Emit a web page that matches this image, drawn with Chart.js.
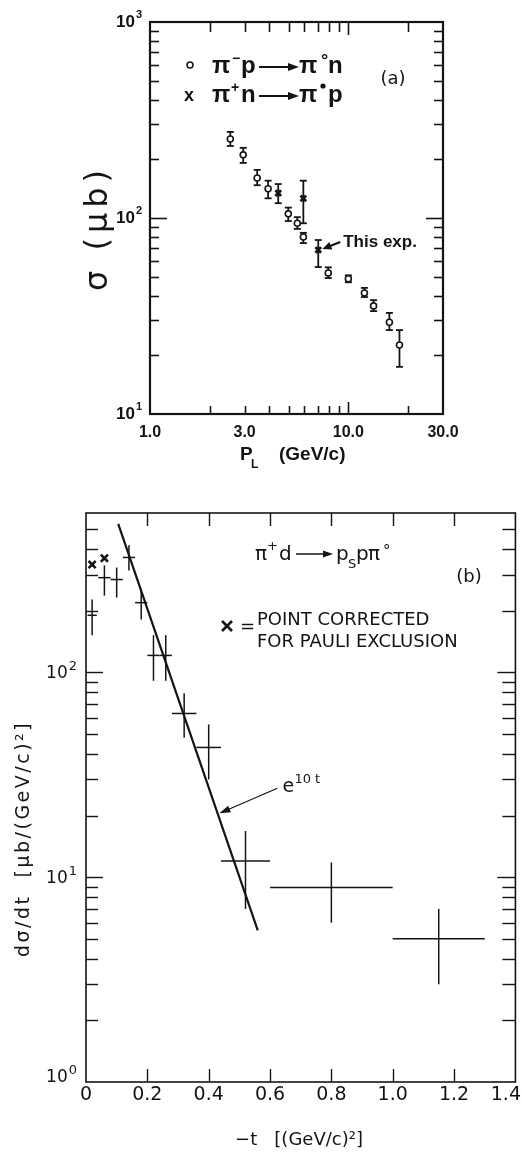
<!DOCTYPE html>
<html>
<head>
<meta charset="utf-8">
<script src="https://cdn.jsdelivr.net/npm/chart.js@4.4.0/dist/chart.umd.min.js"></script>
<style>
  html, body { margin: 0; padding: 0; background: #fff; }
  #wrap { position: relative; width: 523px; height: 1153px; }
  canvas { position: absolute; left: 0; }
  #chartA { top: 0; }
  #chartB { top: 470px; }
</style>
</head>
<body>
<div id="wrap">
  <canvas id="chartA" width="523" height="470"></canvas>
  <canvas id="chartB" width="523" height="683"></canvas>
</div>
<script>
// ── (a) total cross section vs beam momentum ─────────
// pi- p -> pi0 n
const pimMom   = [2.54, 2.95, 3.47, 3.94, 4.98, 5.53, 5.93, 7.92, 10.0, 12.05, 13.4, 16.1, 18.1];
const pimSigma = [253, 210, 160, 141, 105, 94, 80, 52.4, 49, 41.4, 35.6, 29.4, 22.5];
const pimHi    = [275, 228, 176, 155, 113, 101, 84, 56, 51, 44, 38.1, 32.8, 26.8];
const pimLo    = [233, 191, 147, 126, 96.5, 88, 74.5, 49.4, 47, 39.5, 33.5, 26.8, 17.4];
// pi+ n -> pi0 p (last one is this experiment)
const pipMom   = [4.43, 5.93, 7.05];
const pipSigma = [134, 126, 68.7];
const pipHi    = [149, 155, 77.2];
const pipLo    = [119, 94, 56.2];

const aMomLabelVals = [1, 3, 10, 30];
const aMomLabels    = ['1.0', '3.0', '10.0', '30.0'];
const aMomMinor     = [2, 3, 4, 5, 6, 7, 8, 9, 20];
const aMomMajor     = [10];
const aSigExps      = [1, 2, 3];
const aSigMinor     = [20, 30, 40, 50, 60, 70, 80, 90, 200, 300, 400, 500, 600, 700, 800, 900];
const aSigMajor     = [100];

// ── (b) d sigma / dt vs -t ───────────────────────────
const tMid  = [0.02, 0.06, 0.10, 0.14, 0.18, 0.22, 0.26, 0.32, 0.40, 0.52, 0.80, 1.15];
const tLo   = [0.005, 0.04, 0.08, 0.12, 0.16, 0.20, 0.24, 0.28, 0.36, 0.44, 0.60, 1.00];
const tHi   = [0.035, 0.08, 0.12, 0.16, 0.20, 0.24, 0.28, 0.36, 0.44, 0.60, 1.00, 1.30];
const dsdt  = [190, 290, 284, 364, 219, 121, 121, 63, 43, 12, 8.9, 5.0];
const dsdtHi = [227, 333, 325, 417, 254, 152, 152, 79, 55.7, 16.8, 11.8, 7.0];
const dsdtLo = [152, 237, 232, 314, 181, 91, 91, 48, 30, 7.0, 6.0, 3.0];
// points corrected for Pauli exclusion
const pauliT  = [0.02, 0.06];
const pauliY  = [336, 361];
// exponential fit e^{10t}, drawn between its two end points
const fitT = [0.105, 0.56];
const fitY = [531, 5.5];

const bTVals   = [0, 0.2, 0.4, 0.6, 0.8, 1.0, 1.2, 1.4];
const bTLabels = ['0', '0.2', '0.4', '0.6', '0.8', '1.0', '1.2', '1.4'];
const bTTicks  = [0.2, 0.4, 0.6, 0.8, 1.0, 1.2];
const bYExps   = [0, 1, 2];
const bYMinor  = [2, 3, 4, 5, 6, 7, 8, 9, 20, 30, 40, 50, 60, 70, 80, 90, 200, 300, 400, 500];
const bYMajor  = [10, 100];

const INK  = '#141414';
const SANS = '"DejaVu Sans", sans-serif';
const BOLD = 'bold 17px "Liberation Sans", Arial, sans-serif';

// ── helpers ──────────────────────────────────────────
function line(ctx, x1, y1, x2, y2) {
  ctx.beginPath(); ctx.moveTo(x1, y1); ctx.lineTo(x2, y2); ctx.stroke();
}

function arrow(ctx, x1, y1, x2, y2, head, half, lw) {
  const a = Math.atan2(y2 - y1, x2 - x1);
  const c = Math.cos(a), s = Math.sin(a);
  ctx.save();
  ctx.strokeStyle = INK; ctx.fillStyle = INK; ctx.lineWidth = lw;
  line(ctx, x1, y1, x2 - head * 0.7 * c, y2 - head * 0.7 * s);
  ctx.beginPath();
  ctx.moveTo(x2, y2);
  ctx.lineTo(x2 - head * c + half * s, y2 - head * s - half * c);
  ctx.lineTo(x2 - head * c - half * s, y2 - head * s + half * c);
  ctx.closePath(); ctx.fill();
  ctx.restore();
}

function put(ctx, s, x, y, font, align = 'left', base = 'alphabetic') {
  ctx.font = font; ctx.textAlign = align; ctx.textBaseline = base;
  ctx.fillText(s, x, y);
}

// "10" with a raised exponent, right edge at x
function power(ctx, right, y, exp, font, supFont, rise) {
  ctx.textAlign = 'left'; ctx.textBaseline = 'alphabetic';
  ctx.font = supFont;
  const ew = ctx.measureText(String(exp)).width;
  ctx.font = font;
  const bw = ctx.measureText('10').width;
  ctx.fillText('10', right - ew - bw - 1, y);
  ctx.font = supFont;
  ctx.fillText(String(exp), right - ew, y - rise);
}

function frame(chart, lw) {
  const { ctx, chartArea: a } = chart;
  ctx.save();
  ctx.strokeStyle = INK; ctx.lineWidth = lw;
  ctx.strokeRect(a.left, a.top, a.right - a.left, a.bottom - a.top);
  ctx.restore();
}

// inward ticks on both sides of an axis
function ticks(chart, axis, values, lenA, lenB, lw) {
  const { ctx, chartArea: a } = chart;
  const sc = chart.scales[axis];
  ctx.save();
  ctx.strokeStyle = INK; ctx.lineWidth = lw;
  values.forEach(v => {
    const p = Math.round(sc.getPixelForValue(v)) + 0.5;
    if (axis === 'x') {
      line(ctx, p, a.bottom, p, a.bottom - lenA);
      line(ctx, p, a.top, p, a.top + lenB);
    } else {
      line(ctx, a.left, p, a.left + lenA, p);
      line(ctx, a.right, p, a.right - lenB, p);
    }
  });
  ctx.restore();
}

// vertical / horizontal error bars read from the dataset
const errorBars = {
  id: 'errorBars',
  beforeDatasetsDraw(chart) {
    const { ctx, scales: { x, y } } = chart;
    ctx.save();
    ctx.strokeStyle = INK;
    chart.data.datasets.forEach(ds => {
      if (!ds.yHi && !ds.xHi) return;
      ctx.lineWidth = ds.barWidth || 1.5;
      ds.data.forEach((pt, k) => {
        const px = x.getPixelForValue(pt.x);
        const py = y.getPixelForValue(pt.y);
        if (ds.yHi) {
          const top = y.getPixelForValue(ds.yHi[k]);
          const bot = y.getPixelForValue(ds.yLo[k]);
          line(ctx, px, top, px, bot);
          if (ds.cap) {
            line(ctx, px - ds.cap, top, px + ds.cap, top);
            line(ctx, px - ds.cap, bot, px + ds.cap, bot);
          }
        }
        if (ds.xHi) {
          line(ctx, x.getPixelForValue(ds.xLo[k]), py, x.getPixelForValue(ds.xHi[k]), py);
        }
      });
    });
    ctx.restore();
  },
};

// ── panel (a) decorations ────────────────────────────
const panelA = {
  id: 'panelA',
  afterDraw(chart) {
    const { ctx, chartArea: a, scales: { x, y } } = chart;
    frame(chart, 2.2);
    ticks(chart, 'x', aMomMinor, 8, 10, 1.6);
    ticks(chart, 'x', aMomMajor, 12, 13, 1.6);
    ticks(chart, 'y', aSigMinor, 9, 9, 1.6);
    ticks(chart, 'y', aSigMajor, 17, 17, 1.6);

    ctx.save();
    ctx.fillStyle = INK;
    aMomLabelVals.forEach((v, i) => {
      put(ctx, aMomLabels[i], x.getPixelForValue(v), a.bottom + 23, 'bold 16px "Liberation Sans", sans-serif', 'center');
    });
    aSigExps.forEach(e => {
      power(ctx, a.left - 8, y.getPixelForValue(Math.pow(10, e)) + 5,
        e, 'bold 17px "Liberation Sans", sans-serif', 'bold 11px "Liberation Sans", sans-serif', 9);
    });

    // axis titles
    put(ctx, 'P', 240, 460, 'bold 19px "Liberation Sans", sans-serif');
    put(ctx, 'L', 251, 468, 'bold 12px "Liberation Sans", sans-serif');
    put(ctx, '(GeV/c)', 279, 460, 'bold 19px "Liberation Sans", sans-serif');

    ctx.save();
    ctx.translate(107, 228);
    ctx.rotate(-Math.PI / 2);
    ctx.letterSpacing = '5px';
    put(ctx, 'σ (μb)', 0, 0, '32px ' + SANS, 'center');
    ctx.restore();

    // legend
    const big = 'bold 24px "Liberation Sans", sans-serif';
    const sup = 'bold 14px "Liberation Sans", sans-serif';
    ctx.lineWidth = 1.5; ctx.strokeStyle = INK;
    ctx.beginPath(); ctx.arc(190, 65, 3, 0, Math.PI * 2); ctx.stroke();
    put(ctx, 'π', 212, 73, big);
    put(ctx, '−', 232, 63, sup);
    put(ctx, 'p', 241, 73, big);
    arrow(ctx, 259, 67, 299, 67, 11, 4, 2.2);
    put(ctx, 'π', 299, 73, big);
    put(ctx, '°', 321, 66, 'bold 18px "Liberation Sans", sans-serif');
    put(ctx, 'n', 328, 73, big);

    put(ctx, 'x', 189, 101, 'bold 18px "Liberation Sans", sans-serif', 'center');
    put(ctx, 'π', 212, 102, big);
    put(ctx, '+', 231, 92, sup);
    put(ctx, 'n', 241, 102, big);
    arrow(ctx, 259, 96, 299, 96, 11, 4, 2.2);
    put(ctx, 'π', 299, 102, big);
    ctx.beginPath(); ctx.arc(323, 86, 2.6, 0, Math.PI * 2); ctx.fill();
    put(ctx, 'p', 328, 102, big);

    put(ctx, '(a)', 393, 79, '18px ' + SANS, 'center', 'middle');

    // "This exp." pointer
    const tx = x.getPixelForValue(9.1), ty = y.getPixelForValue(75.4);
    arrow(ctx, tx, ty, x.getPixelForValue(7.4), y.getPixelForValue(69.5), 9, 4, 2.2);
    put(ctx, 'This exp.', tx + 3, ty, BOLD, 'left', 'middle');
    ctx.restore();
  },
};

// ── panel (b) decorations ────────────────────────────
const panelB = {
  id: 'panelB',
  afterDraw(chart) {
    const { ctx, chartArea: a, scales: { x, y } } = chart;
    frame(chart, 1.6);
    ticks(chart, 'x', bTTicks, 13, 13, 1.4);
    ticks(chart, 'y', bYMinor, 12, 13, 1.4);
    ticks(chart, 'y', bYMajor, 17, 18, 1.4);

    ctx.save();
    ctx.fillStyle = INK;
    ctx.font = '19px ' + SANS;
    bTVals.forEach((v, i) => {
      const w = ctx.measureText(bTLabels[i]).width;
      const p = Math.min(x.getPixelForValue(v), chart.width - w / 2 - 2);
      put(ctx, bTLabels[i], p, a.bottom + 13, '19px ' + SANS, 'center', 'middle');
    });
    bYExps.forEach(e => {
      const p = y.getPixelForValue(Math.pow(10, e));
      power(ctx, a.left - 9, e === 0 ? p : p + 6, e, '17px ' + SANS, '13px ' + SANS, 8);
    });

    // axis titles
    put(ctx, '−t   [(GeV/c)²]', 299, 675, '18px ' + SANS, 'center');
    ctx.save();
    ctx.translate(29, 369);
    ctx.rotate(-Math.PI / 2);
    ctx.letterSpacing = '2.5px';
    put(ctx, 'dσ/dt  [μb/(GeV/c)²]', 0, 0, '19px ' + SANS, 'center');
    ctx.restore();

    // reaction
    const f = '20px ' + SANS, s = '13px ' + SANS;
    put(ctx, 'π', 255, 90, f);
    put(ctx, '+', 267, 80, s);
    put(ctx, 'd', 279, 90, f);
    arrow(ctx, 296, 84, 333, 84, 10, 3.5, 1.5);
    put(ctx, 'p', 336, 90, f);
    put(ctx, 'S', 348, 98, s);
    put(ctx, 'p', 356, 90, f);
    put(ctx, 'π', 368, 90, f);
    put(ctx, '°', 383, 86, '15px ' + SANS);
    put(ctx, '(b)', 469, 107, '18px ' + SANS, 'center', 'middle');

    // Pauli note
    ctx.lineWidth = 2.6; ctx.strokeStyle = INK;
    line(ctx, 222, 151, 232, 161); line(ctx, 232, 151, 222, 161);
    put(ctx, '=', 240, 162, '18px ' + SANS);
    put(ctx, 'POINT CORRECTED', 257, 155, '18px ' + SANS);
    put(ctx, 'FOR PAULI EXCLUSION', 257, 177, '18px ' + SANS);

    // fit label
    const ex = x.getPixelForValue(0.624), ey = y.getPixelForValue(27.2);
    arrow(ctx, ex, ey, x.getPixelForValue(0.435), y.getPixelForValue(20.5), 11, 3.5, 1.2);
    put(ctx, 'e', ex + 5, ey + 4, '19px ' + SANS);
    put(ctx, '10 t', ex + 17, ey - 5, '13px ' + SANS);
    ctx.restore();
  },
};

const base = {
  responsive: false,
  animation: false,
  events: [],
  plugins: { legend: { display: false }, tooltip: { enabled: false } },
};

new Chart(document.getElementById('chartA'), {
  type: 'scatter',
  data: {
    datasets: [
      {
        label: 'π⁻p → π⁰n',
        data: pimMom.map((m, i) => ({ x: m, y: pimSigma[i] })),
        yHi: pimHi, yLo: pimLo, cap: 3.5, barWidth: 1.8,
        pointStyle: 'circle', pointRadius: 3,
        pointBorderWidth: 1.6, pointBorderColor: INK, pointBackgroundColor: '#fff',
      },
      {
        label: 'π⁺n → π⁰p',
        data: pipMom.map((m, i) => ({ x: m, y: pipSigma[i] })),
        yHi: pipHi, yLo: pipLo, cap: 3.5, barWidth: 1.8,
        pointStyle: 'crossRot', pointRadius: 4,
        pointBorderWidth: 2.8, pointBorderColor: INK,
      },
    ],
  },
  options: {
    ...base,
    layout: { padding: { left: 150, right: 80, top: 22, bottom: 56 } },
    scales: {
      x: { type: 'logarithmic', min: 1, max: 30, display: false },
      y: { type: 'logarithmic', min: 10, max: 1000, display: false },
    },
  },
  plugins: [errorBars, panelA],
});

new Chart(document.getElementById('chartB'), {
  type: 'scatter',
  data: {
    datasets: [
      {
        label: 'π⁺d → p_s p π⁰',
        data: tMid.map((t, i) => ({ x: t, y: dsdt[i] })),
        xLo: tLo, xHi: tHi, yHi: dsdtHi, yLo: dsdtLo, barWidth: 1.5,
        pointRadius: 0,
      },
      {
        label: 'Pauli corrected',
        data: pauliT.map((t, i) => ({ x: t, y: pauliY[i] })),
        pointStyle: 'crossRot', pointRadius: 5,
        pointBorderWidth: 2.6, pointBorderColor: INK,
      },
      {
        label: 'e^10t',
        data: fitT.map((t, i) => ({ x: t, y: fitY[i] })),
        showLine: true, borderColor: INK, borderWidth: 2.2, pointRadius: 0,
      },
    ],
  },
  options: {
    ...base,
    layout: { padding: { left: 86, right: 6, top: 43, bottom: 71 } },
    scales: {
      x: { type: 'linear', min: 0, max: 1.4, display: false },
      y: { type: 'logarithmic', min: 1, max: 600, display: false },
    },
  },
  plugins: [errorBars, panelB],
});
</script>
</body>
</html>
